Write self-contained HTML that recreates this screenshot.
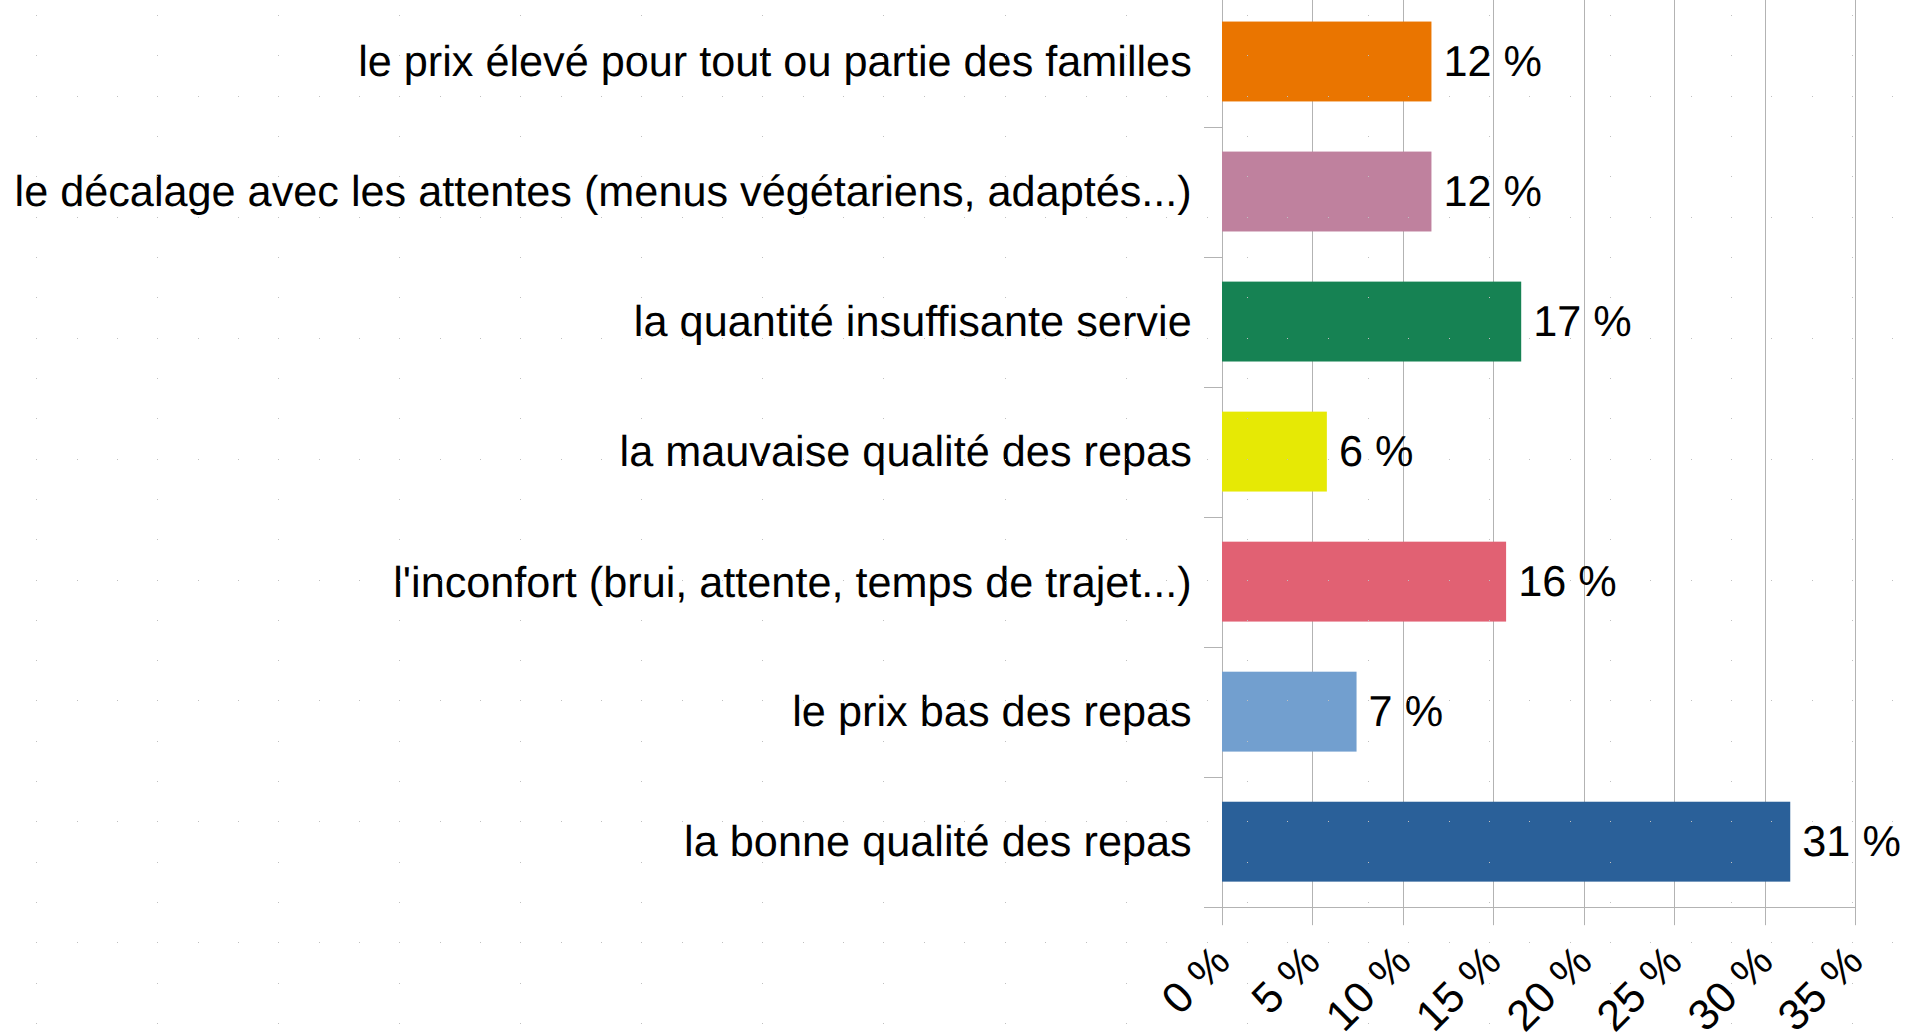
<!DOCTYPE html>
<html lang="fr"><head><meta charset="utf-8"><title>Chart</title>
<style>
html,body{margin:0;padding:0;background:#fff;}
body{width:1926px;height:1036px;position:relative;overflow:hidden;font-family:"Liberation Sans",sans-serif;color:#000;text-rendering:geometricPrecision;}
.l{position:absolute;background:#b3b3b3;}
.c{position:absolute;right:734.25px;white-space:nowrap;font-size:43.23px;line-height:50px;height:50px;text-align:right;}
.v{position:absolute;white-space:nowrap;font-size:43.23px;line-height:50px;height:50px;}
.x{position:absolute;white-space:nowrap;font-size:43.23px;line-height:50px;height:50px;text-align:right;transform-origin:100% 50%;transform:rotate(-45deg);}
#dots,#bars{position:absolute;left:0;top:0;}
</style></head><body>

<div class="l" style="left:1222px;top:0;width:1px;height:925px"></div>
<div class="l" style="left:1312px;top:0;width:1px;height:925px"></div>
<div class="l" style="left:1403px;top:0;width:1px;height:925px"></div>
<div class="l" style="left:1493px;top:0;width:1px;height:925px"></div>
<div class="l" style="left:1584px;top:0;width:1px;height:925px"></div>
<div class="l" style="left:1674px;top:0;width:1px;height:925px"></div>
<div class="l" style="left:1765px;top:0;width:1px;height:925px"></div>
<div class="l" style="left:1855px;top:0;width:1px;height:925px"></div>
<div style="position:absolute;left:1222px;top:925px;width:1px;height:1px;background:#f3f3f3"></div>
<div style="position:absolute;left:1312px;top:925px;width:1px;height:1px;background:#f3f3f3"></div>
<div style="position:absolute;left:1403px;top:925px;width:1px;height:1px;background:#f3f3f3"></div>
<div style="position:absolute;left:1493px;top:925px;width:1px;height:1px;background:#f3f3f3"></div>
<div style="position:absolute;left:1584px;top:925px;width:1px;height:1px;background:#f3f3f3"></div>
<div style="position:absolute;left:1674px;top:925px;width:1px;height:1px;background:#f3f3f3"></div>
<div style="position:absolute;left:1765px;top:925px;width:1px;height:1px;background:#f3f3f3"></div>
<div style="position:absolute;left:1855px;top:925px;width:1px;height:1px;background:#f3f3f3"></div>
<div class="l" style="left:1204px;top:907px;width:652px;height:1px"></div>
<div class="l" style="left:1204px;top:127px;width:18px;height:1px"></div>
<div class="l" style="left:1204px;top:257px;width:18px;height:1px"></div>
<div class="l" style="left:1204px;top:387px;width:18px;height:1px"></div>
<div class="l" style="left:1204px;top:517px;width:18px;height:1px"></div>
<div class="l" style="left:1204px;top:647px;width:18px;height:1px"></div>
<div class="l" style="left:1204px;top:777px;width:18px;height:1px"></div>
<svg id="bars" width="1926" height="1036" viewBox="0 0 1926 1036"><rect x="1222" y="21.55" width="209.45" height="79.9" fill="#ea7500"/><rect x="1222" y="151.58" width="209.45" height="79.9" fill="#bf819e"/><rect x="1222" y="281.61" width="299.20" height="79.9" fill="#168253"/><rect x="1222" y="411.64" width="104.85" height="79.9" fill="#e6e905"/><rect x="1222" y="541.67" width="284.10" height="79.9" fill="#e16173"/><rect x="1222" y="671.70" width="134.55" height="79.9" fill="#729fcf"/><rect x="1222" y="801.73" width="568.25" height="79.9" fill="#2a6099"/></svg>
<div class="c" style="top:37px">le prix élevé pour tout ou partie des familles</div>
<div class="v" style="left:1443.50px;top:37px">12 %</div>
<div class="c" style="top:167px">le décalage avec les attentes (menus végétariens, adaptés...)</div>
<div class="v" style="left:1443.50px;top:167px">12 %</div>
<div class="c" style="top:297px;letter-spacing:0.042px">la quantité insuffisante servie</div>
<div class="v" style="left:1533.25px;top:297px">17 %</div>
<div class="c" style="top:427px;letter-spacing:0.015px">la mauvaise qualité des repas</div>
<div class="v" style="left:1338.90px;top:427px">6 %</div>
<div class="c" style="top:558px">l'inconfort (brui, attente, temps de trajet...)</div>
<div class="v" style="left:1518.15px;top:557px">16 %</div>
<div class="c" style="top:687px;letter-spacing:0.035px">le prix bas des repas</div>
<div class="v" style="left:1368.60px;top:687px">7 %</div>
<div class="c" style="top:817px;letter-spacing:0.026px">la bonne qualité des repas</div>
<div class="v" style="left:1802.30px;top:817px">31 %</div>
<div class="x" style="right:703.50px;top:929.20px">0&nbsp;%</div>
<div class="x" style="right:613.50px;top:929.20px">5&nbsp;%</div>
<div class="x" style="right:522.50px;top:929.20px">10&nbsp;%</div>
<div class="x" style="right:432.50px;top:929.20px">15&nbsp;%</div>
<div class="x" style="right:341.50px;top:929.20px">20&nbsp;%</div>
<div class="x" style="right:251.50px;top:929.20px">25&nbsp;%</div>
<div class="x" style="right:160.50px;top:929.20px">30&nbsp;%</div>
<div class="x" style="right:70.50px;top:929.20px">35&nbsp;%</div>
<svg id="dots" width="1926" height="1036" viewBox="0 0 1926 1036" shape-rendering="crispEdges"><path d="M36 15h1M36 55h1M36 96h1M36 136h1M36 176h1M36 217h1M36 257h1M36 297h1M36 338h1M36 378h1M36 418h1M36 459h1M36 499h1M36 539h1M36 580h1M36 620h1M36 660h1M36 700h1M36 741h1M36 781h1M36 821h1M36 862h1M36 902h1M36 942h1M36 983h1M36 1023h1M77 96h1M77 217h1M77 338h1M77 459h1M77 580h1M77 700h1M77 821h1M77 942h1M117 96h1M117 217h1M117 338h1M117 459h1M117 580h1M117 700h1M117 821h1M117 942h1M157 15h1M157 55h1M157 96h1M157 136h1M157 176h1M157 217h1M157 257h1M157 297h1M157 338h1M157 378h1M157 418h1M157 459h1M157 499h1M157 539h1M157 580h1M157 620h1M157 660h1M157 700h1M157 741h1M157 781h1M157 821h1M157 862h1M157 902h1M157 942h1M157 983h1M157 1023h1M198 96h1M198 217h1M198 338h1M198 459h1M198 580h1M198 700h1M198 821h1M198 942h1M238 96h1M238 217h1M238 338h1M238 459h1M238 580h1M238 700h1M238 821h1M238 942h1M278 15h1M278 55h1M278 96h1M278 136h1M278 176h1M278 217h1M278 257h1M278 297h1M278 338h1M278 378h1M278 418h1M278 459h1M278 499h1M278 539h1M278 580h1M278 620h1M278 660h1M278 700h1M278 741h1M278 781h1M278 821h1M278 862h1M278 902h1M278 942h1M278 983h1M278 1023h1M319 96h1M319 217h1M319 338h1M319 459h1M319 580h1M319 700h1M319 821h1M319 942h1M359 96h1M359 217h1M359 338h1M359 459h1M359 580h1M359 700h1M359 821h1M359 942h1M399 15h1M399 55h1M399 96h1M399 136h1M399 176h1M399 217h1M399 257h1M399 297h1M399 338h1M399 378h1M399 418h1M399 459h1M399 499h1M399 539h1M399 580h1M399 620h1M399 660h1M399 700h1M399 741h1M399 781h1M399 821h1M399 862h1M399 902h1M399 942h1M399 983h1M399 1023h1M440 96h1M440 217h1M440 338h1M440 459h1M440 580h1M440 700h1M440 821h1M440 942h1M480 96h1M480 217h1M480 338h1M480 459h1M480 580h1M480 700h1M480 821h1M480 942h1M520 15h1M520 55h1M520 96h1M520 136h1M520 176h1M520 217h1M520 257h1M520 297h1M520 338h1M520 378h1M520 418h1M520 459h1M520 499h1M520 539h1M520 580h1M520 620h1M520 660h1M520 700h1M520 741h1M520 781h1M520 821h1M520 862h1M520 902h1M520 942h1M520 983h1M520 1023h1M561 96h1M561 217h1M561 338h1M561 459h1M561 580h1M561 700h1M561 821h1M561 942h1M601 96h1M601 217h1M601 338h1M601 459h1M601 580h1M601 700h1M601 821h1M601 942h1M641 15h1M641 55h1M641 96h1M641 136h1M641 176h1M641 217h1M641 257h1M641 297h1M641 338h1M641 378h1M641 418h1M641 459h1M641 499h1M641 539h1M641 580h1M641 620h1M641 660h1M641 700h1M641 741h1M641 781h1M641 821h1M641 862h1M641 902h1M641 942h1M641 983h1M641 1023h1M682 96h1M682 217h1M682 338h1M682 459h1M682 580h1M682 700h1M682 821h1M682 942h1M722 96h1M722 217h1M722 338h1M722 459h1M722 580h1M722 700h1M722 821h1M722 942h1M762 15h1M762 55h1M762 96h1M762 136h1M762 176h1M762 217h1M762 257h1M762 297h1M762 338h1M762 378h1M762 418h1M762 459h1M762 499h1M762 539h1M762 580h1M762 620h1M762 660h1M762 700h1M762 741h1M762 781h1M762 821h1M762 862h1M762 902h1M762 942h1M762 983h1M762 1023h1M803 96h1M803 217h1M803 338h1M803 459h1M803 580h1M803 700h1M803 821h1M803 942h1M843 96h1M843 217h1M843 338h1M843 459h1M843 580h1M843 700h1M843 821h1M843 942h1M883 15h1M883 55h1M883 96h1M883 136h1M883 176h1M883 217h1M883 257h1M883 297h1M883 338h1M883 378h1M883 418h1M883 459h1M883 499h1M883 539h1M883 580h1M883 620h1M883 660h1M883 700h1M883 741h1M883 781h1M883 821h1M883 862h1M883 902h1M883 942h1M883 983h1M883 1023h1M924 96h1M924 217h1M924 338h1M924 459h1M924 580h1M924 700h1M924 821h1M924 942h1M964 96h1M964 217h1M964 338h1M964 459h1M964 580h1M964 700h1M964 821h1M964 942h1M1005 15h1M1005 55h1M1005 96h1M1005 136h1M1005 176h1M1005 217h1M1005 257h1M1005 297h1M1005 338h1M1005 378h1M1005 418h1M1005 459h1M1005 499h1M1005 539h1M1005 580h1M1005 620h1M1005 660h1M1005 700h1M1005 741h1M1005 781h1M1005 821h1M1005 862h1M1005 902h1M1005 942h1M1005 983h1M1005 1023h1M1045 96h1M1045 217h1M1045 338h1M1045 459h1M1045 580h1M1045 700h1M1045 821h1M1045 942h1M1086 96h1M1086 217h1M1086 338h1M1086 459h1M1086 580h1M1086 700h1M1086 821h1M1086 942h1M1126 15h1M1126 55h1M1126 96h1M1126 136h1M1126 176h1M1126 217h1M1126 257h1M1126 297h1M1126 338h1M1126 378h1M1126 418h1M1126 459h1M1126 499h1M1126 539h1M1126 580h1M1126 620h1M1126 660h1M1126 700h1M1126 741h1M1126 781h1M1126 821h1M1126 862h1M1126 902h1M1126 942h1M1126 983h1M1126 1023h1M1166 96h1M1166 217h1M1166 338h1M1166 459h1M1166 580h1M1166 700h1M1166 821h1M1166 942h1M1207 96h1M1207 217h1M1207 338h1M1207 459h1M1207 580h1M1207 700h1M1207 821h1M1207 942h1M1247 15h1M1247 55h1M1247 96h1M1247 136h1M1247 176h1M1247 217h1M1247 257h1M1247 297h1M1247 338h1M1247 378h1M1247 418h1M1247 459h1M1247 499h1M1247 539h1M1247 580h1M1247 620h1M1247 660h1M1247 700h1M1247 741h1M1247 781h1M1247 821h1M1247 862h1M1247 902h1M1247 942h1M1247 983h1M1247 1023h1M1287 96h1M1287 217h1M1287 338h1M1287 459h1M1287 580h1M1287 700h1M1287 821h1M1287 942h1M1328 96h1M1328 217h1M1328 338h1M1328 459h1M1328 580h1M1328 700h1M1328 821h1M1328 942h1M1368 15h1M1368 55h1M1368 96h1M1368 136h1M1368 176h1M1368 217h1M1368 257h1M1368 297h1M1368 338h1M1368 378h1M1368 418h1M1368 459h1M1368 499h1M1368 539h1M1368 580h1M1368 620h1M1368 660h1M1368 700h1M1368 741h1M1368 781h1M1368 821h1M1368 862h1M1368 902h1M1368 942h1M1368 983h1M1368 1023h1M1408 96h1M1408 217h1M1408 338h1M1408 459h1M1408 580h1M1408 700h1M1408 821h1M1408 942h1M1449 96h1M1449 217h1M1449 338h1M1449 459h1M1449 580h1M1449 700h1M1449 821h1M1449 942h1M1489 15h1M1489 55h1M1489 96h1M1489 136h1M1489 176h1M1489 217h1M1489 257h1M1489 297h1M1489 338h1M1489 378h1M1489 418h1M1489 459h1M1489 499h1M1489 539h1M1489 580h1M1489 620h1M1489 660h1M1489 700h1M1489 741h1M1489 781h1M1489 821h1M1489 862h1M1489 902h1M1489 942h1M1489 983h1M1489 1023h1M1529 96h1M1529 217h1M1529 338h1M1529 459h1M1529 580h1M1529 700h1M1529 821h1M1529 942h1M1570 96h1M1570 217h1M1570 338h1M1570 459h1M1570 580h1M1570 700h1M1570 821h1M1570 942h1M1610 15h1M1610 55h1M1610 96h1M1610 136h1M1610 176h1M1610 217h1M1610 257h1M1610 297h1M1610 338h1M1610 378h1M1610 418h1M1610 459h1M1610 499h1M1610 539h1M1610 580h1M1610 620h1M1610 660h1M1610 700h1M1610 741h1M1610 781h1M1610 821h1M1610 862h1M1610 902h1M1610 942h1M1610 983h1M1610 1023h1M1650 96h1M1650 217h1M1650 338h1M1650 459h1M1650 580h1M1650 700h1M1650 821h1M1650 942h1M1691 96h1M1691 217h1M1691 338h1M1691 459h1M1691 580h1M1691 700h1M1691 821h1M1691 942h1M1731 15h1M1731 55h1M1731 96h1M1731 136h1M1731 176h1M1731 217h1M1731 257h1M1731 297h1M1731 338h1M1731 378h1M1731 418h1M1731 459h1M1731 499h1M1731 539h1M1731 580h1M1731 620h1M1731 660h1M1731 700h1M1731 741h1M1731 781h1M1731 821h1M1731 862h1M1731 902h1M1731 942h1M1731 983h1M1731 1023h1M1771 96h1M1771 217h1M1771 338h1M1771 459h1M1771 580h1M1771 700h1M1771 821h1M1771 942h1M1812 96h1M1812 217h1M1812 338h1M1812 459h1M1812 580h1M1812 700h1M1812 821h1M1812 942h1M1852 15h1M1852 55h1M1852 96h1M1852 136h1M1852 176h1M1852 217h1M1852 257h1M1852 297h1M1852 338h1M1852 378h1M1852 418h1M1852 459h1M1852 499h1M1852 539h1M1852 580h1M1852 620h1M1852 660h1M1852 700h1M1852 741h1M1852 781h1M1852 821h1M1852 862h1M1852 902h1M1852 942h1M1852 983h1M1852 1023h1M1892 96h1M1892 217h1M1892 338h1M1892 459h1M1892 580h1M1892 700h1M1892 821h1M1892 942h1" stroke="#c0c0c0" stroke-width="1" fill="none" transform="translate(0,0.5)"/></svg>
</body></html>
